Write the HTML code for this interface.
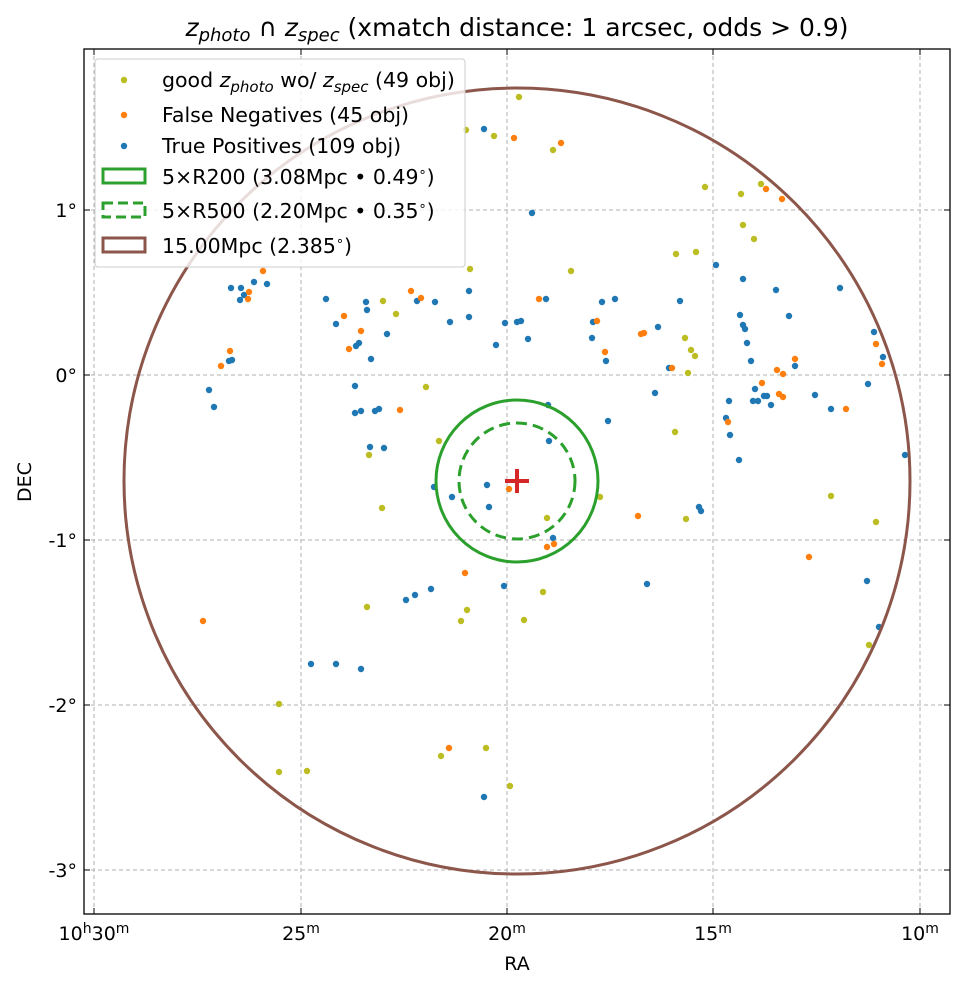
<!DOCTYPE html>
<html><head><meta charset="utf-8"><style>body{margin:0;background:#fff}svg{display:block}text{font-family:"DejaVu Sans","Liberation Sans",sans-serif;fill:#000}</style></head><body>
<svg width="965" height="989" viewBox="0 0 965 989" xmlns="http://www.w3.org/2000/svg">
<rect width="965" height="989" fill="#fff"/>
<g stroke="#b0b0b0" stroke-width="1" stroke-dasharray="4,3">
<line x1="94" y1="49" x2="94" y2="914"/><line x1="301" y1="49" x2="301" y2="914"/><line x1="507" y1="49" x2="507" y2="914"/><line x1="713" y1="49" x2="713" y2="914"/><line x1="920" y1="49" x2="920" y2="914"/>
<line x1="84" y1="210" x2="950" y2="210"/><line x1="84" y1="375" x2="950" y2="375"/><line x1="84" y1="540" x2="950" y2="540"/><line x1="84" y1="705" x2="950" y2="705"/><line x1="84" y1="870" x2="950" y2="870"/>
</g>
<g fill="#1f77b4">
<circle cx="231" cy="288" r="3.2"/><circle cx="241" cy="288" r="3.2"/><circle cx="244" cy="295" r="3.2"/><circle cx="240" cy="300" r="3.2"/><circle cx="254" cy="282" r="3.2"/><circle cx="267" cy="284" r="3.2"/><circle cx="326" cy="299" r="3.2"/><circle cx="336" cy="324" r="3.2"/><circle cx="366" cy="302" r="3.2"/><circle cx="367" cy="310" r="3.2"/><circle cx="387" cy="334" r="3.2"/><circle cx="356" cy="346" r="3.2"/><circle cx="359" cy="343" r="3.2"/><circle cx="371" cy="359" r="3.2"/><circle cx="417" cy="301" r="3.2"/><circle cx="435" cy="302" r="3.2"/><circle cx="450" cy="322" r="3.2"/><circle cx="469" cy="291" r="3.2"/><circle cx="469" cy="317" r="3.2"/><circle cx="505" cy="323" r="3.2"/><circle cx="496" cy="345" r="3.2"/><circle cx="517" cy="322" r="3.2"/><circle cx="229" cy="361" r="3.2"/><circle cx="232" cy="360" r="3.2"/><circle cx="209" cy="390" r="3.2"/><circle cx="214" cy="407" r="3.2"/><circle cx="355" cy="386" r="3.2"/><circle cx="355" cy="413" r="3.2"/><circle cx="361" cy="411" r="3.2"/><circle cx="375" cy="411" r="3.2"/><circle cx="379" cy="409" r="3.2"/><circle cx="370" cy="447" r="3.2"/><circle cx="384" cy="448" r="3.2"/><circle cx="484" cy="129" r="3.2"/>
<circle cx="532" cy="213" r="3.2"/><circle cx="546" cy="299" r="3.2"/><circle cx="521" cy="321" r="3.2"/><circle cx="528" cy="339" r="3.2"/><circle cx="602" cy="302" r="3.2"/><circle cx="615" cy="299" r="3.2"/><circle cx="593" cy="322" r="3.2"/><circle cx="592" cy="338" r="3.2"/><circle cx="606" cy="361" r="3.2"/><circle cx="658" cy="327" r="3.2"/><circle cx="669" cy="368" r="3.2"/><circle cx="680" cy="301" r="3.2"/><circle cx="716" cy="265" r="3.2"/><circle cx="743" cy="279" r="3.2"/><circle cx="776" cy="290" r="3.2"/><circle cx="840" cy="288" r="3.2"/><circle cx="740" cy="315" r="3.2"/><circle cx="743" cy="325" r="3.2"/><circle cx="745" cy="329" r="3.2"/><circle cx="789" cy="316" r="3.2"/><circle cx="747" cy="343" r="3.2"/><circle cx="751" cy="361" r="3.2"/><circle cx="795" cy="366" r="3.2"/><circle cx="874" cy="332" r="3.2"/><circle cx="883" cy="357" r="3.2"/><circle cx="868" cy="384" r="3.2"/><circle cx="815" cy="395" r="3.2"/><circle cx="831" cy="409" r="3.2"/><circle cx="755" cy="389" r="3.2"/><circle cx="753" cy="401" r="3.2"/><circle cx="758" cy="401" r="3.2"/><circle cx="764" cy="396" r="3.2"/><circle cx="767" cy="396" r="3.2"/><circle cx="771" cy="405" r="3.2"/><circle cx="729" cy="401" r="3.2"/><circle cx="726" cy="418" r="3.2"/><circle cx="730" cy="435" r="3.2"/><circle cx="739" cy="460" r="3.2"/><circle cx="655" cy="393" r="3.2"/><circle cx="608" cy="421" r="3.2"/><circle cx="549" cy="441" r="3.2"/><circle cx="548" cy="405" r="3.2"/>
<circle cx="905" cy="455" r="3.2"/><circle cx="647" cy="584" r="3.2"/><circle cx="867" cy="581" r="3.2"/><circle cx="879" cy="627" r="3.2"/><circle cx="699" cy="507" r="3.2"/><circle cx="701" cy="511" r="3.2"/><circle cx="553" cy="538" r="3.2"/><circle cx="504" cy="586" r="3.2"/><circle cx="434" cy="487" r="3.2"/><circle cx="452" cy="497" r="3.2"/><circle cx="487" cy="485" r="3.2"/><circle cx="489" cy="507" r="3.2"/><circle cx="406" cy="600" r="3.2"/><circle cx="415" cy="595" r="3.2"/><circle cx="431" cy="589" r="3.2"/><circle cx="311" cy="664" r="3.2"/><circle cx="336" cy="664" r="3.2"/><circle cx="361" cy="669" r="3.2"/><circle cx="484" cy="797" r="3.2"/>
</g>
<g fill="#ff7f0e">
<circle cx="514" cy="138" r="3.2"/><circle cx="263" cy="271" r="3.2"/><circle cx="249" cy="292" r="3.2"/><circle cx="248" cy="299" r="3.2"/><circle cx="411" cy="291" r="3.2"/><circle cx="421" cy="298" r="3.2"/><circle cx="344" cy="316" r="3.2"/><circle cx="361" cy="331" r="3.2"/><circle cx="349" cy="349" r="3.2"/><circle cx="230" cy="351" r="3.2"/><circle cx="221" cy="366" r="3.2"/><circle cx="400" cy="410" r="3.2"/><circle cx="561" cy="143" r="3.2"/><circle cx="766" cy="189" r="3.2"/><circle cx="782" cy="199" r="3.2"/><circle cx="539" cy="299" r="3.2"/><circle cx="597" cy="321" r="3.2"/><circle cx="641" cy="334" r="3.2"/><circle cx="644" cy="333" r="3.2"/><circle cx="605" cy="352" r="3.2"/><circle cx="672" cy="368" r="3.2"/><circle cx="876" cy="344" r="3.2"/><circle cx="882" cy="364" r="3.2"/><circle cx="795" cy="359" r="3.2"/><circle cx="777" cy="370" r="3.2"/><circle cx="783" cy="374" r="3.2"/><circle cx="762" cy="383" r="3.2"/><circle cx="779" cy="394" r="3.2"/><circle cx="783" cy="397" r="3.2"/><circle cx="846" cy="409" r="3.2"/><circle cx="728" cy="422" r="3.2"/><circle cx="509" cy="489" r="3.2"/><circle cx="547" cy="547" r="3.2"/><circle cx="554" cy="544" r="3.2"/><circle cx="638" cy="516" r="3.2"/><circle cx="809" cy="557" r="3.2"/><circle cx="465" cy="573" r="3.2"/><circle cx="203" cy="621" r="3.2"/><circle cx="449" cy="748" r="3.2"/>
</g>
<g fill="#bcbd22">
<circle cx="519" cy="97" r="3.2"/><circle cx="494" cy="136" r="3.2"/><circle cx="466" cy="130" r="3.2"/><circle cx="470" cy="269" r="3.2"/><circle cx="383" cy="301" r="3.2"/><circle cx="396" cy="314" r="3.2"/><circle cx="426" cy="387" r="3.2"/><circle cx="439" cy="441" r="3.2"/><circle cx="369" cy="455" r="3.2"/><circle cx="553" cy="150" r="3.2"/><circle cx="705" cy="187" r="3.2"/><circle cx="741" cy="194" r="3.2"/><circle cx="761" cy="184" r="3.2"/><circle cx="743" cy="225" r="3.2"/><circle cx="754" cy="239" r="3.2"/><circle cx="676" cy="254" r="3.2"/><circle cx="696" cy="252" r="3.2"/><circle cx="571" cy="271" r="3.2"/><circle cx="685" cy="338" r="3.2"/><circle cx="691" cy="350" r="3.2"/><circle cx="695" cy="356" r="3.2"/><circle cx="688" cy="373" r="3.2"/><circle cx="675" cy="432" r="3.2"/><circle cx="600" cy="497" r="3.2"/><circle cx="547" cy="518" r="3.2"/><circle cx="686" cy="519" r="3.2"/><circle cx="831" cy="496" r="3.2"/><circle cx="876" cy="522" r="3.2"/><circle cx="543" cy="592" r="3.2"/><circle cx="524" cy="620" r="3.2"/><circle cx="869" cy="645" r="3.2"/><circle cx="382" cy="508" r="3.2"/><circle cx="367" cy="607" r="3.2"/><circle cx="467" cy="610" r="3.2"/><circle cx="461" cy="621" r="3.2"/><circle cx="279" cy="704" r="3.2"/><circle cx="279" cy="772" r="3.2"/><circle cx="307" cy="771" r="3.2"/><circle cx="441" cy="756" r="3.2"/><circle cx="486" cy="748" r="3.2"/><circle cx="510" cy="786" r="3.2"/>
</g>
<ellipse cx="517" cy="481" rx="393" ry="393" fill="none" stroke="#8c564b" stroke-width="3"/>
<circle cx="517" cy="481" r="81" fill="none" stroke="#2ca02c" stroke-width="3"/>
<circle cx="517" cy="481" r="58" fill="none" stroke="#2ca02c" stroke-width="3" stroke-dasharray="11,6"/>
<path d="M505 481H529M517 469V493" stroke="#d62728" stroke-width="4"/>
<rect x="84" y="49" width="866" height="865" fill="none" stroke="#000" stroke-width="1.3"/>
<g stroke="#000" stroke-width="1">
<path d="M94 914v-6M301 914v-6M507 914v-6M713 914v-6M920 914v-6M94 49v6M301 49v6M507 49v6M713 49v6M920 49v6"/>
<path d="M84 210h6M84 375h6M84 540h6M84 705h6M84 870h6M950 210h-6M950 375h-6M950 540h-6M950 705h-6M950 870h-6"/>
</g>
<rect x="95" y="59" width="370" height="208" rx="3" fill="#fff" fill-opacity="0.8" stroke="#ccc"/>
<g font-size="20.5">
<circle cx="124" cy="80" r="3.2" fill="#bcbd22"/><text x="162" y="87">good <tspan font-style="italic">z</tspan><tspan font-style="italic" font-size="15" dy="5">photo</tspan><tspan dy="-5"> wo/ </tspan><tspan font-style="italic">z</tspan><tspan font-style="italic" font-size="15" dy="5">spec</tspan><tspan dy="-5"> (49 obj)</tspan></text>
<circle cx="124" cy="115" r="3.2" fill="#ff7f0e"/><text x="162" y="122">False Negatives (45 obj)</text>
<circle cx="124" cy="146" r="3.2" fill="#1f77b4"/><text x="162" y="153">True Positives (109 obj)</text>
<rect x="103" y="169" width="42" height="14" fill="none" stroke="#2ca02c" stroke-width="3"/><text x="162" y="184">5×R200 (3.08Mpc • 0.49<tspan font-size="13" dy="-8">∘</tspan><tspan dy="8">)</tspan></text>
<rect x="103" y="203" width="42" height="14" fill="none" stroke="#2ca02c" stroke-width="3" stroke-dasharray="10,5"/><text x="162" y="218">5×R500 (2.20Mpc • 0.35<tspan font-size="13" dy="-8">∘</tspan><tspan dy="8">)</tspan></text>
<rect x="103" y="238" width="42" height="14" fill="none" stroke="#8c564b" stroke-width="3"/><text x="162" y="253">15.00Mpc (2.385<tspan font-size="13" dy="-8">∘</tspan><tspan dy="8">)</tspan></text>
</g>
<g font-size="19" text-anchor="end">
<text x="77" y="217">1°</text><text x="77" y="382">0°</text><text x="77" y="547">-1°</text><text x="77" y="712">-2°</text><text x="77" y="877">-3°</text>
</g>
<g font-size="19" text-anchor="middle">
<text x="94" y="940">10<tspan font-size="14" dy="-7">h</tspan><tspan dy="7">30</tspan><tspan font-size="14" dy="-7">m</tspan></text>
<text x="301" y="940">25<tspan font-size="14" dy="-7">m</tspan></text>
<text x="507" y="940">20<tspan font-size="14" dy="-7">m</tspan></text>
<text x="713" y="940">15<tspan font-size="14" dy="-7">m</tspan></text>
<text x="920" y="940">10<tspan font-size="14" dy="-7">m</tspan></text>
<text x="517" y="970">RA</text>
<text transform="translate(31,482) rotate(-90)">DEC</text>
<text x="517" y="36" font-size="25"><tspan font-style="italic">z</tspan><tspan font-style="italic" font-size="18" dy="5">photo</tspan><tspan dy="-5"> ∩ </tspan><tspan font-style="italic">z</tspan><tspan font-style="italic" font-size="18" dy="5">spec</tspan><tspan dy="-5"> (xmatch distance: 1 arcsec, odds &gt; 0.9)</tspan></text>
</g>
</svg>
</body></html>
